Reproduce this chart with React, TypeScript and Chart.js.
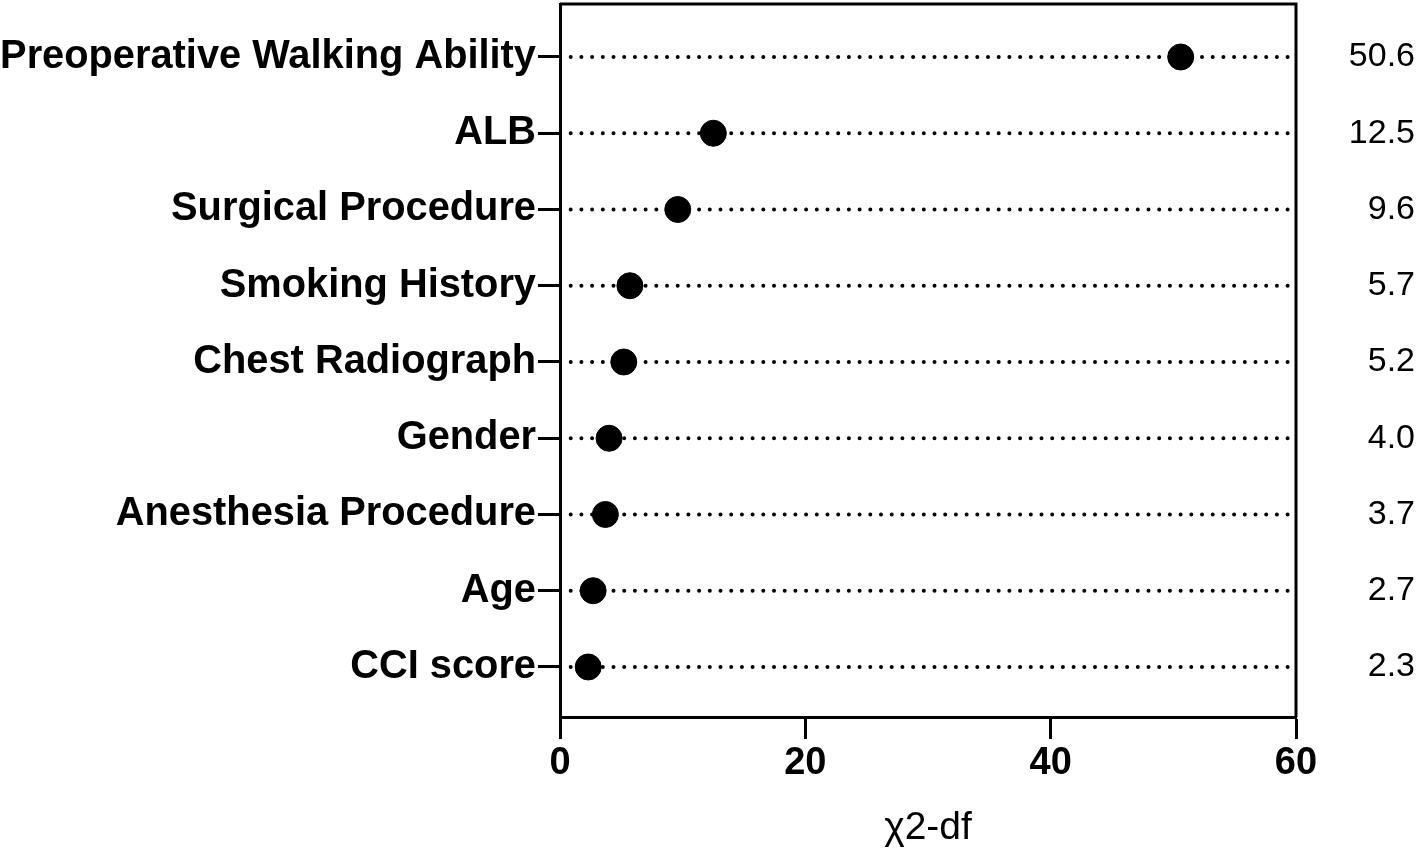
import React, { useEffect, useRef } from "react";
import { Chart, registerables } from "chart.js";

Chart.register(...registerables);

const categories = [
  "Preoperative Walking Ability",
  "ALB",
  "Surgical Procedure",
  "Smoking History",
  "Chest Radiograph",
  "Gender",
  "Anesthesia Procedure",
  "Age",
  "CCI score",
];
const values = [50.6, 12.5, 9.6, 5.7, 5.2, 4.0, 3.7, 2.7, 2.3];
const valueLabels = ["50.6", "12.5", "9.6", "5.7", "5.2", "4.0", "3.7", "2.7", "2.3"];
const xTicks = [0, 20, 40, 60];
const xTitle = "\u03C72-df";

const FONT = "'Liberation Sans', Arial, Helvetica, sans-serif";

export default function App() {
  const ref = useRef<HTMLCanvasElement | null>(null);

  useEffect(() => {
    if (!ref.current) return;
    const lineSets = categories.map((c, i) => ({
      type: "line" as const,
      label: c,
      data: [
        { x: xTicks[0], y: i },
        { x: xTicks[xTicks.length - 1], y: i },
      ],
      borderColor: "#000",
      borderWidth: 4,
      borderDash: [0, 10.7],
      borderCapStyle: "round" as const,
      pointRadius: 0,
      order: 2,
    }));

    const framePlugin = {
      id: "frame",
      afterDatasetsDraw(chart: any) {
        const { ctx, chartArea } = chart;
        ctx.save();
        ctx.strokeStyle = "#000";
        ctx.lineWidth = 3;
        ctx.beginPath();
        ctx.moveTo(chartArea.left, chartArea.top);
        ctx.lineTo(chartArea.right, chartArea.top);
        ctx.lineTo(chartArea.right, chartArea.bottom);
        ctx.stroke();
        ctx.restore();
      },
      afterDraw(chart: any) {
        const { ctx } = chart;
        const ys = chart.scales.y;
        ctx.save();
        ctx.fillStyle = "#000";
        ctx.font = `34px ${FONT}`;
        ctx.textAlign = "right";
        ctx.textBaseline = "middle";
        valueLabels.forEach((t, i) => {
          ctx.fillText(t, 1415, ys.getPixelForValue(i));
        });
        ctx.restore();
      },
    };

    const chart = new Chart(ref.current, {
      type: "scatter",
      data: {
        datasets: [
          {
            type: "scatter",
            label: "values",
            data: values.map((v, i) => ({ x: v, y: i })),
            backgroundColor: "#000",
            borderColor: "#000",
            pointRadius: 13,
            order: 1,
          },
          ...lineSets,
        ] as any,
      },
      options: {
        animation: false,
        responsive: false,
        maintainAspectRatio: false,
        layout: { autoPadding: false, padding: { top: 4, right: 122, left: 0, bottom: 0 } },
        plugins: { legend: { display: false }, tooltip: { enabled: false } },
        scales: {
          x: {
            type: "linear",
            min: 0,
            max: 60,
            afterBuildTicks: (s: any) => {
              s.ticks = xTicks.map((v) => ({ value: v }));
            },
            afterFit: (s: any) => {
              s.height = 145;
              s.paddingLeft = 0;
              s.paddingRight = 0;
            },
            border: { display: true, color: "#000", width: 3 },
            grid: {
              drawOnChartArea: false,
              drawTicks: true,
              tickLength: 22,
              tickWidth: 3,
              tickColor: "#000",
            },
            ticks: {
              color: "#000",
              font: { family: FONT, size: 38, weight: "bold" },
              padding: 2,
              maxRotation: 0,
            },
            title: {
              display: true,
              text: xTitle,
              color: "#000",
              font: { family: FONT, size: 39, weight: "normal" },
              padding: { top: 0, bottom: 10 },
            },
          },
          y: {
            type: "linear",
            reverse: true,
            min: -0.695,
            max: 8.656,
            afterBuildTicks: (s: any) => {
              s.ticks = categories.map((_, i) => ({ value: i }));
            },
            afterFit: (s: any) => {
              s.width = 560;
              s.paddingTop = 0;
              s.paddingBottom = 0;
            },
            border: { display: true, color: "#000", width: 3 },
            grid: {
              drawOnChartArea: false,
              drawTicks: true,
              tickLength: 22,
              tickWidth: 3,
              tickColor: "#000",
            },
            ticks: {
              color: "#000",
              font: { family: FONT, size: 39.8, weight: "bold" },
              padding: 2,
              autoSkip: false,
              callback: (v: any) => categories[v as number] ?? "",
            },
          },
        },
      },
      plugins: [framePlugin],
    });
    return () => chart.destroy();
  }, []);

  return (
    <div style={{ position: "absolute", left: 0, top: 0, width: 1418, height: 862, background: "#fff" }}>
      <canvas ref={ref} width={1418} height={862} style={{ width: 1418, height: 862 }} />
    </div>
  );
}
